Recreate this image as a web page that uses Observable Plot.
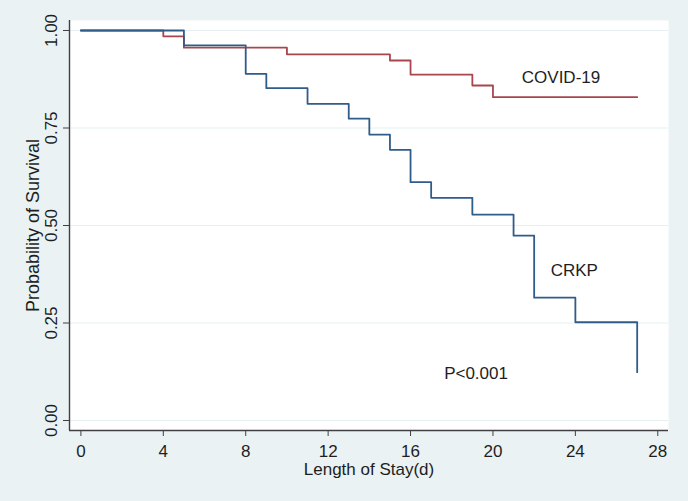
<!DOCTYPE html>
<html>
<head>
<meta charset="utf-8">
<script src="https://cdn.jsdelivr.net/npm/d3@7"></script>
<script src="https://cdn.jsdelivr.net/npm/@observablehq/plot@0.6"></script>
<style>
  html, body { margin: 0; padding: 0; background: #eaf2f3; }
  #chart svg { display: block; }
</style>
</head>
<body>
<div id="chart"></div>
<script>
// Kaplan–Meier step data
const covidTime = [0, 4, 5, 10, 15, 16, 19, 20, 27];
const covidSurv = [1.0, 0.985, 0.956, 0.939, 0.923, 0.887, 0.859, 0.829, 0.829];
const crkpTime = [0, 5, 8, 9, 11, 13, 14, 15, 16, 17, 19, 21, 22, 24, 27];
const crkpSurv = [1.0, 0.962, 0.889, 0.852, 0.812, 0.774, 0.733, 0.694, 0.611, 0.571, 0.528, 0.474, 0.315, 0.252, 0.124];

const xTicks = [0, 4, 8, 12, 16, 20, 24, 28];
const yTicks = [0, 0.25, 0.5, 0.75, 1];
const yTickLabels = ["0.00", "0.25", "0.50", "0.75", "1.00"];
const seriesNames = ["COVID-19", "CRKP"];
const labelX = [21.4, 22.8];
const labelY = [0.88, 0.385];
const pText = "P<0.001";
const pX = 17.63;
const pY = 0.121;
const xTitle = "Length of Stay(d)";
const yTitle = "Probability of Survival";

const covid = covidTime.map((t, i) => ({t, s: covidSurv[i]}));
const crkp = crkpTime.map((t, i) => ({t, s: crkpSurv[i]}));
const labels = seriesNames.map((name, i) => ({name, x: labelX[i], y: labelY[i]}));
const yLabelRows = yTicks.map((v, i) => ({v, label: yTickLabels[i]}));

const xDomain = [-0.553, 28.52];
const yDomain = [-0.0256, 1.0256];
const font = "'Liberation Sans', Arial, sans-serif";
const ink = "#1e1e1e";
const axisColor = "#404040";

const chart = Plot.plot({
  width: 688,
  height: 501,
  marginLeft: 69,
  marginRight: 20,
  marginTop: 20,
  marginBottom: 71,
  style: {background: "#eaf2f3", fontFamily: font, color: ink},
  x: {domain: xDomain},
  y: {domain: yDomain},
  marks: [
    Plot.frame({fill: "white", stroke: null}),
    Plot.ruleY(yTicks, {stroke: "#e6eff1", strokeWidth: 1.2}),
    Plot.ruleX([xDomain[0]], {stroke: axisColor, strokeWidth: 1.4}),
    Plot.ruleY([yDomain[0]], {stroke: axisColor, strokeWidth: 1.4}),
    Plot.axisX({ticks: xTicks, tickSize: 6, tickPadding: 8, fontSize: 17, stroke: axisColor, label: null, tickFormat: d => d}),
    Plot.axisY({ticks: yTicks, tickSize: 6, stroke: axisColor, label: null, tickFormat: () => ""}),
    Plot.text(yLabelRows, {y: "v", text: "label", frameAnchor: "left", dx: -13, rotate: -90, lineAnchor: "bottom", textAnchor: "middle", fontSize: 17, fill: ink}),
    Plot.line(covid, {x: "t", y: "s", curve: "step-after", stroke: "#a8464e", strokeWidth: 1.8}),
    Plot.line(crkp, {x: "t", y: "s", curve: "step-after", stroke: "#2f5c89", strokeWidth: 1.8}),
    Plot.text(labels, {x: "x", y: "y", text: "name", textAnchor: "start", fontSize: 17, fill: ink}),
    Plot.text([pText], {x: pX, y: pY, text: d => d, textAnchor: "start", fontSize: 17, fill: ink}),
    Plot.text([xTitle], {frameAnchor: "bottom", text: d => d, dy: 39, lineAnchor: "middle", textAnchor: "middle", fontSize: 17, fill: ink}),
    Plot.text([yTitle], {frameAnchor: "left", text: d => d, dx: -36, rotate: -90, lineAnchor: "middle", textAnchor: "middle", fontSize: 18, fill: ink})
  ]
});
document.getElementById("chart").appendChild(chart);
</script>
</body>
</html>
